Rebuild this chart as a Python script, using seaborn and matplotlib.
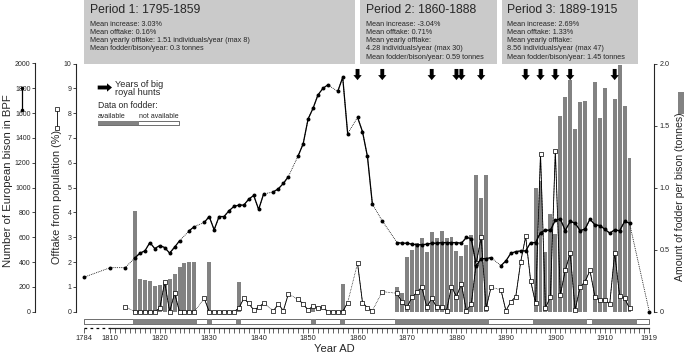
import numpy as np
import pandas as pd
import matplotlib
matplotlib.use("Agg")
import matplotlib.pyplot as plt
from matplotlib.patches import Rectangle, FancyArrowPatch
from matplotlib.lines import Line2D
import seaborn as sns

sns.set_style("ticks")
plt.rcParams["font.family"] = ["Liberation Sans", "DejaVu Sans"]

# ---- values ----
pop_years = [1784, 1810, 1813, 1815, 1816, 1817, 1818, 1819, 1820, 1821, 1822, 1823, 1824,
             1826, 1827, 1829, 1830, 1831, 1832, 1833, 1834, 1835, 1836, 1837, 1838, 1839,
             1840, 1841, 1843, 1844, 1845, 1846, 1848, 1849, 1850, 1851, 1852, 1853, 1854,
             1856, 1857, 1858, 1860, 1861, 1862, 1863, 1865, 1868, 1869, 1870, 1871, 1872,
             1873, 1874, 1875, 1876, 1877, 1878, 1879, 1880, 1881, 1882, 1883, 1884, 1885,
             1886, 1887, 1889, 1890, 1891, 1892, 1893, 1894, 1895, 1896, 1897, 1898, 1899,
             1900, 1901, 1902, 1903, 1904, 1905, 1906, 1907, 1908, 1909, 1910, 1911, 1912,
             1913, 1914, 1915, 1919]
pop_counts = [278, 355, 355, 434, 472, 490, 557, 509, 533, 517, 472, 520, 571,
              654, 686, 719, 767, 660, 767, 767, 813, 848, 859, 859, 907, 937,
              824, 948, 966, 991, 1034, 1088, 1257, 1352, 1553, 1639, 1747, 1800, 1828,
              1775, 1889, 1435, 1566, 1451, 1251, 867, 731, 557, 552, 552, 544, 540,
              540, 544, 552, 552, 557, 557, 557, 557, 552, 598, 589, 371, 428,
              428, 436, 371, 409, 471, 484, 490, 490, 557, 557, 638, 657, 657,
              737, 748, 654, 727, 714, 654, 665, 746, 700, 694, 665, 633, 660,
              652, 727, 714, 0]

offtake_years = [1813, 1815, 1816, 1817, 1818, 1819, 1820, 1821, 1822, 1823, 1824, 1825,
                 1826, 1827, 1829, 1830, 1831, 1832, 1833, 1834, 1835, 1836, 1837, 1838,
                 1839, 1840, 1841, 1843, 1844, 1845, 1846, 1848, 1849, 1850, 1851, 1852,
                 1853, 1854, 1855, 1856, 1857, 1858, 1860, 1861, 1862, 1863, 1865, 1868,
                 1869, 1870, 1871, 1872, 1873, 1874, 1875, 1876, 1877, 1878, 1879, 1880,
                 1881, 1882, 1883, 1884, 1885, 1886, 1887, 1889, 1890, 1891, 1892, 1893,
                 1894, 1895, 1896, 1897, 1898, 1899, 1900, 1901, 1902, 1903, 1904, 1905,
                 1906, 1907, 1908, 1909, 1910, 1911, 1912, 1913, 1914, 1915]
offtake_pct = [0.20, 0, 0, 0, 0, 0, 0.14, 1.19, 0, 0.74, 0, 0,
               0, 0, 0.54, 0, 0, 0, 0, 0, 0, 0.14, 0.54, 0.34,
               0.07, 0.18, 0.34, 0.04, 0.31, 0.04, 0.71, 0.50, 0.31, 0.07, 0.23, 0.14,
               0.18, 0, 0, 0, 0, 0.37, 1.95, 0.37, 0.16, 0.04, 0.81, 0.74,
               0.38, 0.18, 0.58, 0.78, 0.99, 0.18, 0.54, 0.18, 0.18, 0.04, 1.01, 0.61,
               1.12, 0.04, 0.30, 1.95, 3.00, 0.14, 0.99, 0.88, 0.04, 0.40, 0.61, 2.02,
               3.03, 1.25, 0.34, 6.37, 0.14, 0.61, 6.48, 0.67, 1.66, 2.36, 0.07, 0.99,
               1.21, 1.66, 0.61, 0.47, 0.47, 0.31, 2.38, 0.63, 0.54, 0.14]

fodder_years = [1815, 1816, 1817, 1818, 1819, 1820, 1821, 1822, 1823, 1824, 1825, 1826,
                1827, 1830, 1836, 1851, 1857, 1868, 1869, 1870, 1871, 1872, 1873, 1874,
                1875, 1876, 1877, 1878, 1879, 1880, 1881, 1882, 1883, 1884, 1885, 1886,
                1896, 1897, 1898, 1899, 1900, 1901, 1902, 1903, 1904, 1905, 1906, 1908,
                1909, 1910, 1912, 1913, 1914, 1915]
fodder_tonnes = [0.81, 0.26, 0.256, 0.248, 0.208, 0.216, 0.242, 0.262, 0.304, 0.364, 0.396, 0.40,
                 0.40, 0.40, 0.24, 0.03, 0.22, 0.20, 0.15, 0.44, 0.50, 0.55, 0.59, 0.48,
                 0.64, 0.59, 0.65, 0.59, 0.60, 0.49, 0.45, 0.54, 0.62, 1.10, 0.92, 1.10,
                 1.00, 1.05, 0.48, 0.79, 0.63, 1.58, 1.73, 1.87, 1.47, 1.69, 1.70, 1.85,
                 1.56, 1.80, 1.71, 1.99, 1.66, 1.24]

# spans of years with fodder records (first, last)
fodder_known = [(1815, 1827), (1830, 1830), (1836, 1836), (1851, 1851), (1857, 1857),
                (1868, 1886), (1896, 1906), (1908, 1916)]

hunt_years = [1860, 1865, 1875, 1880, 1881, 1885, 1894, 1897, 1900, 1903, 1912]

year_ticks = [1784, 1810, 1820, 1830, 1840, 1850, 1860, 1870, 1880, 1890, 1900, 1910, 1919]

periods = [
    ("Period 1: 1795-1859",
     ["Mean increase: 3.03%", "Mean offtake: 0.16%",
      "Mean yearly offtake: 1.51 individuals/year (max 8)",
      "Mean fodder/bison/year: 0.3 tonnes"]),
    ("Period 2: 1860-1888",
     ["Mean increase: -3.04%", "Mean offtake: 0.71%", "Mean yearly offtake:",
      "4.28 individuals/year (max 30)", "Mean fodder/bison/year: 0.59 tonnes"]),
    ("Period 3: 1889-1915",
     ["Mean increase: 2.69%", "Mean offtake: 1.33%", "Mean yearly offtake:",
      "8.56 individuals/year (max 47)", "Mean fodder/bison/year: 1.45 tonnes"]),
]

BAR = "#828282"
BOX = "#cacaca"
W, H = 685, 355


def fxy(x, y):
    # figure pixel (from top-left) -> figure fraction
    return x / W, 1 - y / H


def with_runs(years, values, name):
    df = pd.DataFrame({"year": years, name: values})
    df["run"] = (df["year"].diff() != 1).cumsum()
    return df


# axis is squeezed before 1810
K = 0.2045


def fwd(v):
    v = np.asarray(v, dtype=float)
    return np.where(v >= 1810, v, 1810 - (1810 - v) * K)


def inv(u):
    u = np.asarray(u, dtype=float)
    return np.where(u >= 1810, u, 1810 - (1810 - u) / K)


fig = plt.figure(figsize=(W / 100, H / 100), dpi=100)
left, bottom = fxy(84, 311.7)
right, top = fxy(649.3, 63.5)
rect = [left, bottom, right - left, top - bottom]
ax_f = fig.add_axes(rect)
ax_o = fig.add_axes(rect, sharex=ax_f)
ax_p = fig.add_axes(rect, sharex=ax_f)

# fodder bars
ax_f.bar(fodder_years, fodder_tonnes, width=0.8, color=BAR, linewidth=0, zorder=1)

# offtake line
off_df = with_runs(offtake_years, offtake_pct, "offtake")
sns.lineplot(data=off_df, x="year", y="offtake", ax=ax_o, estimator=None, color="k",
             lw=0.5, linestyle=(0, (1, 1.2)), clip_on=False)
sns.lineplot(data=off_df, x="year", y="offtake", units="run", estimator=None, ax=ax_o,
             color="k", lw=0.6, clip_on=False)
sns.scatterplot(data=off_df, x="year", y="offtake", ax=ax_o, marker="s", s=5,
                facecolor="white", edgecolor="k", linewidth=0.5, zorder=4, clip_on=False)

# population line
pop_df = with_runs(pop_years, pop_counts, "bison")
sns.lineplot(data=pop_df, x="year", y="bison", ax=ax_p, estimator=None, color="k",
             lw=0.6, linestyle=(0, (1, 1.2)), clip_on=False)
sns.lineplot(data=pop_df, x="year", y="bison", units="run", estimator=None, ax=ax_p,
             color="k", lw=0.9, clip_on=False)
sns.scatterplot(data=pop_df, x="year", y="bison", ax=ax_p, color="k", s=8, linewidth=0,
                zorder=5, clip_on=False)

# hunting arrows
for yr in hunt_years:
    ax_o.annotate("", xy=(yr, 9.33), xytext=(yr, 9.78),
                  arrowprops=dict(arrowstyle="simple,head_length=0.45,head_width=0.75,tail_width=0.35",
                                  fc="k", ec="none", mutation_scale=8, shrinkA=0, shrinkB=0))

# x axis with squeezed start
ax_f.set_xscale("function", functions=(fwd, inv))
ax_f.set_xlim(1784, 1919)
ax_f.set_xticks(year_ticks, labels=[str(y) for y in year_ticks])
ax_f.set_xticks(range(1810, 1920), minor=True)
ax_f.tick_params(axis="x", which="both", length=3.6, width=0.5, labelsize=5.4, pad=1.2)
for s in ["left", "top"]:
    ax_f.spines[s].set_visible(False)
ax_f.spines["bottom"].set_position(("outward", 11.7))
ax_f.spines["bottom"].set_bounds(1810, 1919)
ax_f.spines["bottom"].set_linewidth(0.9)
ax_f.plot([1784, 1810], [-0.0657, -0.0657], transform=ax_f.get_xaxis_transform(),
          color="k", lw=0.9, linestyle=(0, (2.2, 2.6)), clip_on=False)

# fodder availability strip
strip = ax_f.get_xaxis_transform()
ax_f.add_patch(Rectangle((1784, -0.0495), 1919 - 1784, 0.019, transform=strip,
                         fc="white", ec="k", lw=0.4, clip_on=False))
for a, b in fodder_known:
    ax_f.add_patch(Rectangle((a - 0.5, -0.0495), b - a + 1, 0.019, transform=strip,
                             fc=BAR, ec="none", clip_on=False))

ax_f.yaxis.tick_right()
ax_f.spines["right"].set_position(("outward", 3.2))
ax_f.set_ylim(0, 2)
ax_f.set_yticks([0, 0.5, 1, 1.5, 2], labels=["0", "0.5", "1.0", "1.5", "2.0"])
ax_f.tick_params(axis="y", labelsize=5.2, length=2.4, width=0.6, pad=2)
ax_f.set_xlabel("")
ax_f.set_ylabel("")

for ax, out, lim, ticks in [(ax_o, 5.8, (0, 10), range(0, 11)),
                            (ax_p, 35.3, (0, 2000), range(0, 2001, 200))]:
    ax.patch.set_visible(False)
    for s in ["right", "top", "bottom"]:
        ax.spines[s].set_visible(False)
    ax.spines["left"].set_position(("outward", out))
    ax.set_ylim(*lim)
    ax.set_yticks(list(ticks))
    ax.tick_params(axis="y", labelsize=5, length=2.2, width=0.6, pad=1)
    ax.tick_params(axis="x", which="both", bottom=False, labelbottom=False)
    ax.set_xlabel("")
    ax.set_ylabel("")

# axis titles
fig.text(*fxy(8.5, 181), "Number of European bison in BPF", rotation=90,
         ha="center", va="center", fontsize=8.2)
fig.text(*fxy(57.5, 197), "Offtake from population (%)", rotation=90,
         ha="center", va="center", fontsize=7.8)
fig.text(*fxy(680, 197), "Amount of fodder per bison (tonnes)", rotation=90,
         ha="center", va="center", fontsize=7.6)
fig.text(*fxy(334, 349), "Year AD", ha="center", va="center", fontsize=8)

# small series keys next to the axis titles
fig.add_artist(Line2D([22 / W, 22 / W], [1 - 88 / H, 1 - 110 / H], transform=fig.transFigure,
                      color="k", lw=0.9, marker="o", ms=2.6, mew=0))
fig.add_artist(Line2D([57 / W, 57 / W], [1 - 108.5 / H, 1 - 127.5 / H], transform=fig.transFigure,
                      color="k", lw=0.6, marker="s", ms=2.4, mfc="white", mec="k", mew=0.5))
fig.add_artist(Rectangle(fxy(678, 113.5), 6 / W, 21 / H, transform=fig.transFigure,
                         fc=BAR, ec="none"))

# period boxes
box_px = [(84, 355), (360, 496.5), (501.5, 637.5)]
for (title, lines), (x0, x1) in zip(periods, box_px):
    fig.add_artist(Rectangle(fxy(x0, 63.5), (x1 - x0) / W, 63.5 / H,
                             transform=fig.transFigure, fc=BOX, ec="none"))
    fig.text(*fxy(x0 + 5.5, 10), title, fontsize=8.7, va="center", ha="left")
    for i, line in enumerate(lines):
        fig.text(*fxy(x0 + 5.5, 24 + 8.3 * i), line, fontsize=5.2, va="center", ha="left")

# in-plot key
fig.add_artist(FancyArrowPatch(fxy(97.7, 87.5), fxy(112, 87.5), transform=fig.transFigure,
                               arrowstyle="simple,head_length=0.45,head_width=0.75,tail_width=0.35",
                               fc="k", ec="none", mutation_scale=8, shrinkA=0, shrinkB=0))
fig.text(*fxy(115, 88.5), "Years of big\nroyal hunts", fontsize=6.6, va="center",
         ha="left", linespacing=0.85)
fig.text(*fxy(97.7, 105), "Data on fodder:", fontsize=6.2, va="center", ha="left")
fig.text(*fxy(97.7, 116), "available", fontsize=5, va="center", ha="left")
fig.text(*fxy(139, 116), "not available", fontsize=5, va="center", ha="left")
fig.add_artist(Rectangle(fxy(97.7, 125.3), (179.3 - 97.7) / W, 4.6 / H,
                         transform=fig.transFigure, fc="white", ec="k", lw=0.4))
fig.add_artist(Rectangle(fxy(97.7, 125.3), (139 - 97.7) / W, 4.6 / H,
                         transform=fig.transFigure, fc=BAR, ec="none"))

fig.savefig("out.png", dpi=100)
